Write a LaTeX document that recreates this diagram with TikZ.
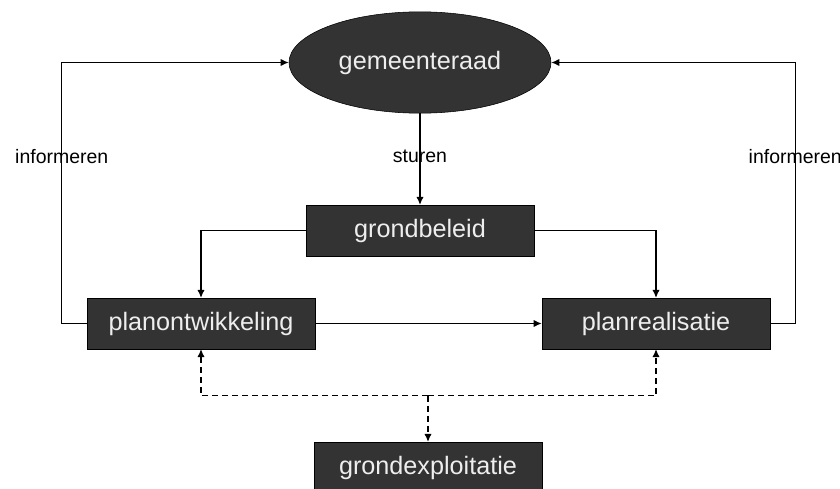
\documentclass[tikz,border=0pt]{standalone}
\usepackage{fontspec}
\setmainfont{Liberation Sans}
\usepackage{tikz}
\usetikzlibrary{positioning, arrows.meta, shapes.geometric}
\definecolor{blokgrijs}{RGB}{51, 51, 51}
\definecolor{tekstwit}{RGB}{238, 238, 238}

\begin{document}
\begin{tikzpicture}[x=0.75pt, y=-0.75pt, every node/.style={align=center},
  blok/.style={draw=black, fill=blokgrijs, text=tekstwit, font=\fontsize{18.9}{22}\selectfont,
    minimum width=171pt, minimum height=38pt, inner sep=0pt},
  pijl/.style={-{Latex[length=6pt, width=5.5pt]}, line width=1pt},
  streep/.style={dash pattern=on 4.5pt off 3pt},
  opschrift/.style={font=\fontsize{14.6}{17}\selectfont, inner sep=1pt}]
  \useasboundingbox (0,0) rectangle (840,489);
  \node[draw=black, ellipse, fill=blokgrijs, text=tekstwit, font=\fontsize{18.9}{22}\selectfont,
    minimum width=196.5pt, minimum height=76pt, inner sep=0pt] (raad) at (420,62.5) {gemeenteraad};
  \node[blok] (beleid) at (420,230.5) {grondbeleid};
  \node[blok] (ontw) at (201,323.5) {planontwikkeling};
  \node[blok] (real) at (656,323.5) {planrealisatie};
  \node[blok] (exploit) at (428,467.5) {grondexploitatie};
  \coordinate (split) at (428,395.5);
  % sturen en beleid
  \draw[pijl] (raad) -- node[opschrift, pos=0.47] {sturen} (beleid);
  \draw[pijl] (beleid.west) -| (ontw.north);
  \draw[pijl] (beleid.east) -| (real.north);
  \draw[pijl] (ontw) -- (real);
  % terugkoppeling naar de raad
  \draw[pijl] (ontw.west) -- ++(-25,0) |- node[opschrift, pos=0.32] {informeren} (raad.west);
  \draw[pijl] (real.east) -- ++(25,0) |- node[opschrift, pos=0.32] {informeren} (raad.east);
  % grondexploitatie
  \draw[pijl, streep] (split) -- (exploit.north);
  \draw[pijl, streep] (split) -| (ontw.south);
  \draw[pijl, streep] (split) -| (real.south);
\end{tikzpicture}
\end{document}
